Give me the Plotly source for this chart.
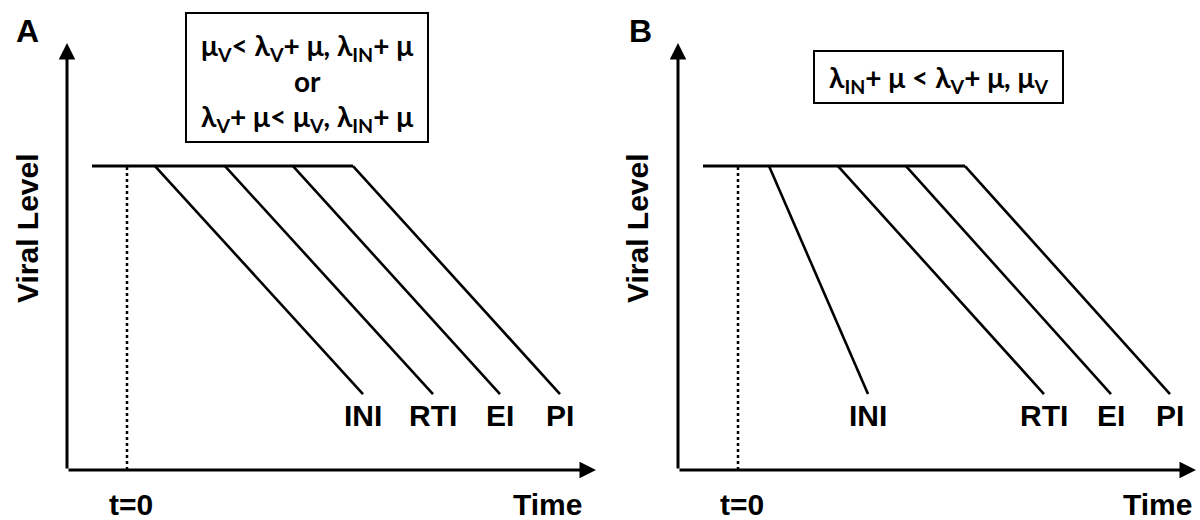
import plotly.graph_objects as go

# ---------------- data (time relative to t=0, viral level in arbitrary units) ----------------
drugs = ["INI", "RTI", "EI", "PI"]
plateau_level = 10.0
end_level = 2.5

# Panel A
a_plateau_start = -3.5
a_start = [2.8, 9.8, 16.6, 22.6]
a_end = [23.6, 30.6, 37.3, 43.3]

# Panel B
b_plateau_start = -3.5
b_start = [3.1, 10.0, 16.8, 22.7]
b_end = [13.0, 30.6, 37.3, 43.2]

a_x_range = [-6.0, 47.3]
b_x_range = [-6.0, 46.2]
y_range = [0.0, 14.05]

box_a_lines = [
    "μ<sub>V</sub>< λ<sub>V</sub>+ μ, λ<sub>IN</sub>+ μ",
    "or",
    "λ<sub>V</sub>+ μ< μ<sub>V</sub>, λ<sub>IN</sub>+ μ",
]
box_b_line = "λ<sub>IN</sub>+ μ < λ<sub>V</sub>+ μ, μ<sub>V</sub>"

# ---------------- figure ----------------
W, H = 1200, 520
fig = go.Figure()
BLACK = "#000000"
LBL = dict(family="Liberation Sans, Arial, sans-serif", size=30, color=BLACK, weight="bold")
LET = dict(family="Liberation Sans, Arial, sans-serif", size=32, color=BLACK, weight="bold")
BOXF = dict(family="Lato, Open Sans, sans-serif", size=28, color=BLACK, weight="bold")


def px(x):
    return x / W


def py(y):
    return 1 - y / H


def panel(xa, ya, pstart, starts, ends, xr, t0_px, time_px):
    # plateau
    fig.add_trace(go.Scatter(x=[pstart, starts[-1]], y=[plateau_level, plateau_level],
                             mode="lines", line=dict(color=BLACK, width=3),
                             xaxis=xa, yaxis=ya, showlegend=False, hoverinfo="skip"))
    # t=0 dotted line
    fig.add_trace(go.Scatter(x=[0, 0], y=[0, plateau_level], mode="lines",
                             line=dict(color=BLACK, width=2.5, dash="dot"),
                             xaxis=xa, yaxis=ya, showlegend=False, hoverinfo="skip"))
    for name, s, e in zip(drugs, starts, ends):
        fig.add_trace(go.Scatter(x=[s, e], y=[plateau_level, end_level], mode="lines",
                                 line=dict(color=BLACK, width=2.6), name=name,
                                 xaxis=xa, yaxis=ya, showlegend=False, hoverinfo="skip"))
        fig.add_annotation(x=e, y=1.78, xref=xa, yref=ya, text=name, showarrow=False,
                           font=LBL, xanchor="center", yanchor="middle")
    # axes arrows
    fig.add_annotation(x=xr[1] - 0.4, y=0, ax=xr[0], ay=0, xref=xa, yref=ya,
                       axref=xa, ayref=ya, text="", showarrow=True, arrowhead=2,
                       arrowsize=1.1, arrowwidth=3, arrowcolor=BLACK, standoff=0)
    fig.add_annotation(x=xr[0], y=y_range[1], ax=xr[0], ay=0, xref=xa, yref=ya,
                       axref=xa, ayref=ya, text="", showarrow=True, arrowhead=2,
                       arrowsize=1.1, arrowwidth=3, arrowcolor=BLACK, standoff=0)
    # axis texts
    fig.add_annotation(x=px(t0_px), y=py(504), xref="paper", yref="paper", text="t=0",
                       showarrow=False, font=LBL, xanchor="center", yanchor="middle")
    fig.add_annotation(x=px(time_px), y=py(504), xref="paper", yref="paper", text="Time",
                       showarrow=False, font=LBL, xanchor="center", yanchor="middle")


panel("x", "y", a_plateau_start, a_start, a_end, a_x_range, 131, 547)
panel("x2", "y2", b_plateau_start, b_start, b_end, b_x_range, 742, 1157)

# panel letters and y titles
for letter, lx, vx in [("A", 27, 27), ("B", 640, 637)]:
    fig.add_annotation(x=px(lx), y=py(31), xref="paper", yref="paper", text=letter,
                       showarrow=False, font=LET, xanchor="center", yanchor="middle")
    fig.add_annotation(x=px(vx), y=py(228), xref="paper", yref="paper", text="Viral Level",
                       showarrow=False, font=LBL, textangle=-90, xanchor="center",
                       yanchor="middle")

# condition boxes
fig.add_shape(type="rect", xref="paper", yref="paper", x0=px(186), x1=px(428),
              y0=py(142), y1=py(13), line=dict(color=BLACK, width=2))
for txt, yy in zip(box_a_lines, [47, 81, 118]):
    fig.add_annotation(x=px(307), y=py(yy), xref="paper", yref="paper", text=txt,
                       showarrow=False, font=BOXF, xanchor="center", yanchor="middle")
fig.add_shape(type="rect", xref="paper", yref="paper", x0=px(814), x1=px(1063),
              y0=py(103), y1=py(51), line=dict(color=BLACK, width=2))
fig.add_annotation(x=px(938), y=py(79), xref="paper", yref="paper", text=box_b_line,
                   showarrow=False, font=BOXF, xanchor="center", yanchor="middle")

ydom = [py(470), py(43)]
common_y = dict(range=y_range, visible=False, fixedrange=True)
fig.update_layout(
    width=W, height=H, margin=dict(l=0, r=0, t=0, b=0),
    paper_bgcolor="white", plot_bgcolor="white",
    xaxis=dict(domain=[px(67), px(600)], range=a_x_range, visible=False),
    xaxis2=dict(domain=[px(678), 1.0], range=b_x_range, visible=False),
    yaxis=dict(domain=ydom, anchor="x", **common_y),
    yaxis2=dict(domain=ydom, anchor="x2", **common_y),
    showlegend=False,
)
fig.write_html("out.html", config={"displayModeBar": False},
               post_script="document.body.style.margin='0';document.body.style.padding='0';")
